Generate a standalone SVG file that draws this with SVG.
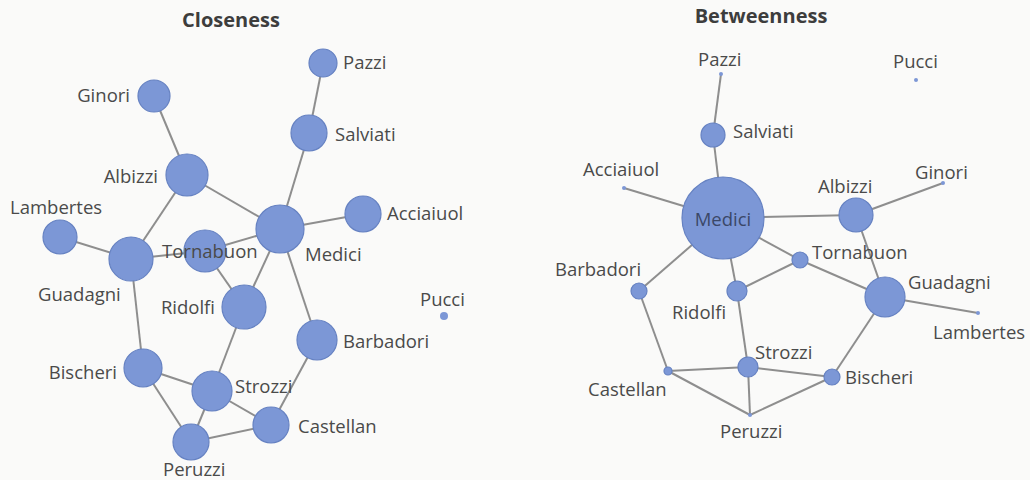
<svg xmlns="http://www.w3.org/2000/svg" width="1030" height="480" viewBox="0 0 1030 480">
<style>
.bg{fill:#fafaf9}
.e{stroke:#8e8e8e;stroke-width:2;fill:none}
.n{fill:#7c97d6;stroke:#6682c2;stroke-width:1.2}
.d{fill:#7c97d6;stroke:none}
.t{font-family:"Open Sans","Liberation Sans",sans-serif;font-size:18.5px;fill:#4a4a4a}
.r{text-anchor:end}
.h{font-family:"Open Sans","Liberation Sans",sans-serif;font-size:20px;font-weight:700;fill:#3d3d3d;text-anchor:middle}
.m{fill:#3b4868;text-anchor:middle}
</style>
<rect class="bg" x="0" y="0" width="1030" height="480"/>
<text class="h" x="231" y="27">Closeness</text>
<text class="h" x="761" y="23">Betweenness</text>

<g id="connectors">
<!-- Closeness -->
<line class="e" x1="323" y1="63" x2="309" y2="133"/>
<line class="e" x1="309" y1="133" x2="280" y2="229"/>
<line class="e" x1="154" y1="96" x2="187" y2="175"/>
<line class="e" x1="187" y1="175" x2="280" y2="229"/>
<line class="e" x1="187" y1="175" x2="131" y2="259"/>
<line class="e" x1="60" y1="237" x2="131" y2="259"/>
<line class="e" x1="363" y1="214" x2="280" y2="229"/>
<line class="e" x1="280" y1="229" x2="205" y2="251"/>
<line class="e" x1="131" y1="259" x2="205" y2="251"/>
<line class="e" x1="205" y1="251" x2="244" y2="307"/>
<line class="e" x1="280" y1="229" x2="244" y2="307"/>
<line class="e" x1="280" y1="229" x2="317" y2="340"/>
<line class="e" x1="131" y1="259" x2="143" y2="368"/>
<line class="e" x1="244" y1="307" x2="212" y2="391"/>
<line class="e" x1="317" y1="340" x2="271" y2="425"/>
<line class="e" x1="143" y1="368" x2="212" y2="391"/>
<line class="e" x1="143" y1="368" x2="191" y2="442"/>
<line class="e" x1="212" y1="391" x2="191" y2="442"/>
<line class="e" x1="212" y1="391" x2="271" y2="425"/>
<line class="e" x1="191" y1="442" x2="271" y2="425"/>
<!-- Betweenness -->
<line class="e" x1="721" y1="74" x2="713" y2="135"/>
<line class="e" x1="713" y1="135" x2="723" y2="218"/>
<line class="e" x1="624" y1="188" x2="723" y2="218"/>
<line class="e" x1="723" y1="218" x2="856" y2="215"/>
<line class="e" x1="856" y1="215" x2="943" y2="183"/>
<line class="e" x1="856" y1="215" x2="885" y2="297"/>
<line class="e" x1="723" y1="218" x2="800" y2="260"/>
<line class="e" x1="723" y1="218" x2="639" y2="291"/>
<line class="e" x1="723" y1="218" x2="737" y2="291"/>
<line class="e" x1="737" y1="291" x2="800" y2="260"/>
<line class="e" x1="800" y1="260" x2="885" y2="297"/>
<line class="e" x1="885" y1="297" x2="978" y2="313"/>
<line class="e" x1="885" y1="297" x2="832" y2="377"/>
<line class="e" x1="639" y1="291" x2="668" y2="371"/>
<line class="e" x1="737" y1="291" x2="748" y2="367"/>
<line class="e" x1="668" y1="371" x2="748" y2="367"/>
<line class="e" x1="668" y1="371" x2="750" y2="415"/>
<line class="e" x1="748" y1="367" x2="750" y2="415"/>
<line class="e" x1="748" y1="367" x2="832" y2="377"/>
<line class="e" x1="832" y1="377" x2="750" y2="415"/>
</g>

<!-- Closeness nodes -->
<g id="c-pazzi"><circle class="n" cx="323" cy="63" r="14"/><text class="t" x="343" y="69">Pazzi</text></g>
<g id="c-ginori"><circle class="n" cx="154" cy="96" r="16"/><text class="t r" x="130" y="102">Ginori</text></g>
<g id="c-salviati"><circle class="n" cx="309" cy="133" r="18"/><text class="t" x="335" y="141">Salviati</text></g>
<g id="c-albizzi"><circle class="n" cx="187" cy="175" r="21"/><text class="t r" x="158" y="183">Albizzi</text></g>
<g id="c-lambertes"><circle class="n" cx="60" cy="237" r="17"/><text class="t" x="10" y="214">Lambertes</text></g>
<g id="c-acciaiuol"><circle class="n" cx="363" cy="214" r="18"/><text class="t" x="387" y="220">Acciaiuol</text></g>
<g id="c-medici"><circle class="n" cx="280" cy="229" r="24"/><text class="t" x="305" y="261">Medici</text></g>
<g id="c-guadagni"><circle class="n" cx="131" cy="259" r="22"/><text class="t" x="38" y="301">Guadagni</text></g>
<g id="c-tornabuon"><circle class="n" cx="205" cy="251" r="21"/><text class="t" x="162" y="258">Tornabuon</text></g>
<g id="c-ridolfi"><circle class="n" cx="244" cy="307" r="22"/><text class="t r" x="215" y="314">Ridolfi</text></g>
<g id="c-pucci"><circle class="d" cx="444" cy="316" r="4"/><text class="t" x="420" y="306">Pucci</text></g>
<g id="c-barbadori"><circle class="n" cx="317" cy="340" r="20"/><text class="t" x="343" y="348">Barbadori</text></g>
<g id="c-bischeri"><circle class="n" cx="143" cy="368" r="19"/><text class="t r" x="117" y="379">Bischeri</text></g>
<g id="c-strozzi"><circle class="n" cx="212" cy="391" r="20"/><text class="t" x="235" y="393">Strozzi</text></g>
<g id="c-castellan"><circle class="n" cx="271" cy="425" r="18"/><text class="t" x="298" y="433">Castellan</text></g>
<g id="c-peruzzi"><circle class="n" cx="191" cy="442" r="18"/><text class="t" x="163" y="476">Peruzzi</text></g>

<!-- Betweenness nodes -->
<g id="b-pazzi"><circle class="d" cx="721" cy="74" r="2"/><text class="t" x="698" y="66">Pazzi</text></g>
<g id="b-pucci"><circle class="d" cx="916" cy="80" r="2"/><text class="t" x="893" y="68">Pucci</text></g>
<g id="b-salviati"><circle class="n" cx="713" cy="135" r="12"/><text class="t" x="733" y="138">Salviati</text></g>
<g id="b-acciaiuol"><circle class="d" cx="624" cy="188" r="2"/><text class="t" x="583" y="176">Acciaiuol</text></g>
<g id="b-medici"><circle class="n" cx="723" cy="218" r="41"/><text class="t m" x="723" y="226">Medici</text></g>
<g id="b-albizzi"><circle class="n" cx="856" cy="215" r="17"/><text class="t" x="818" y="193">Albizzi</text></g>
<g id="b-ginori"><circle class="d" cx="943" cy="183" r="2"/><text class="t" x="915" y="179">Ginori</text></g>
<g id="b-tornabuon"><circle class="n" cx="800" cy="260" r="8"/><text class="t" x="812" y="259">Tornabuon</text></g>
<g id="b-barbadori"><circle class="n" cx="639" cy="291" r="8"/><text class="t" x="555" y="276">Barbadori</text></g>
<g id="b-ridolfi"><circle class="n" cx="737" cy="291" r="10"/><text class="t" x="672" y="319">Ridolfi</text></g>
<g id="b-guadagni"><circle class="n" cx="885" cy="297" r="20"/><text class="t" x="908" y="289">Guadagni</text></g>
<g id="b-lambertes"><circle class="d" cx="978" cy="313" r="2"/><text class="t" x="933" y="339">Lambertes</text></g>
<g id="b-strozzi"><circle class="n" cx="748" cy="367" r="10"/><text class="t" x="755" y="359">Strozzi</text></g>
<g id="b-castellan"><circle class="n" cx="668" cy="371" r="4"/><text class="t" x="588" y="396">Castellan</text></g>
<g id="b-bischeri"><circle class="n" cx="832" cy="377" r="8"/><text class="t" x="845" y="384">Bischeri</text></g>
<g id="b-peruzzi"><circle class="d" cx="750" cy="415" r="2"/><text class="t" x="720" y="438">Peruzzi</text></g>
</svg>
